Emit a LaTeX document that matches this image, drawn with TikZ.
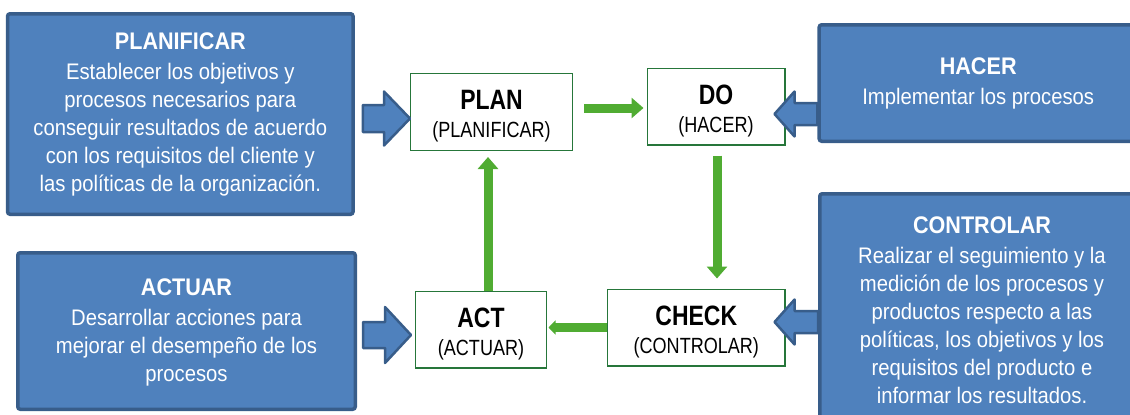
\documentclass[tikz,border=0pt]{standalone}
\usepackage{fontspec}
\setmainfont{Liberation Sans}
\newfontfamily\boxfont[FakeStretch=0.9]{Liberation Sans}
\newfontfamily\stepfont[FakeStretch=0.82]{Liberation Sans}
\usetikzlibrary{calc,arrows.meta}
\definecolor{boxblue}{RGB}{79,129,189}
\definecolor{edgeblue}{RGB}{56,93,138}
\definecolor{flowgreen}{RGB}{80,172,50}
\definecolor{stepgreen}{RGB}{38,118,58}

\begin{document}
\begin{tikzpicture}[x=1pt,y=-1pt,
    infobox/.style={draw=edgeblue,fill=boxblue,line width=3.5pt,rounded corners=2.5pt,
      text=white,align=center,inner sep=0pt,
      font=\boxfont\fontsize{22.5}{28}\selectfont},
    stepbox/.style={draw=stepgreen,fill=white,line width=1.3pt,align=center,inner sep=0pt,
      minimum height=76.7pt,font=\stepfont\fontsize{22}{28}\selectfont},
    flow/.style={draw=flowgreen,line width=9pt,-{Triangle[width=20pt,length=12pt]}},
    blockarrow/.style={draw=edgeblue,fill=boxblue,line width=2.5pt,line join=round}]
      \useasboundingbox (0,0) rectangle (1130,415);
      \clip (0,0) rectangle (1130,415);
      % blue boxes
      \node[infobox,minimum width=345.5pt,minimum height=200.5pt] (planificar) at (180.3,114)
        {{\bfseries\fontsize{24}{28}\selectfont PLANIFICAR}\\[2pt]
         Establecer los objetivos y\\procesos necesarios para\\conseguir resultados de acuerdo\\
         con los requisitos del cliente y\\las políticas de la organización.};
      \node[infobox,minimum width=318pt,minimum height=116.5pt] (hacer) at (978.2,83)
        {{\bfseries\fontsize{24}{28}\selectfont HACER}\\[2pt]Implementar los procesos};
      \node[infobox,minimum width=324.5pt,minimum height=233.5pt] (controlar) at (982,310.5)
        {{\bfseries\fontsize{24}{28}\selectfont CONTROLAR}\\[2pt]
         Realizar el seguimiento y la\\medición de los procesos y\\productos respecto a las\\
         políticas, los objetivos y los\\requisitos del producto e\\informar los resultados.};
      \node[infobox,minimum width=337.5pt,minimum height=156.5pt] (actuar) at (186.5,331)
        {\rule{0pt}{20pt}{\bfseries\fontsize{24}{28}\selectfont ACTUAR}\\[2pt]
         Desarrollar acciones para\\mejorar el desempeño de los\\procesos};
      % cycle steps
      \node[stepbox,minimum width=161.7pt] (plan) at (491.5,112)
        {\rule{0pt}{28pt}{\bfseries\fontsize{28}{28}\selectfont PLAN}\\(PLANIFICAR)};
      \node[stepbox,minimum width=137.7pt] (do) at (716,106.5)
        {\rule{0pt}{28pt}{\bfseries\fontsize{28}{28}\selectfont DO}\\(HACER)};
      \node[stepbox,minimum width=177.2pt] (check) at (696.3,327.5)
        {\rule{0pt}{28pt}{\bfseries\fontsize{28}{28}\selectfont CHECK}\\(CONTROLAR)};
      \node[stepbox,minimum width=130.7pt] (act) at (481,329.5)
        {\rule{0pt}{28pt}{\bfseries\fontsize{28}{28}\selectfont ACT}\\(ACTUAR)};
      % green cycle
      \draw[flow] ($(plan.east)+(11,-4)$) -- ($(do.west |- plan.east)+(-3,-4)$);
      \draw[flow] ($(do.south)+(1,10)$) -- ($(do.south |- check.north)+(1,-10)$);
      \draw[flow,-{Triangle[width=14pt,length=7pt]}] (check.west) -- ($(act.east |- check.west)+(1.5,0)$);
      \draw[flow] ($(act.north)+(7,0)$) -- ($(act.north |- plan.south)+(7,6)$);
      % block arrows into the steps
      \coordinate (t1) at ($(planificar.east |- plan.west)+(8,6.5)$);
      \coordinate (p1) at ($(plan.west)+(0,6.5)$);
      \coordinate (t2) at ($(hacer.west |- do.east)+(0,7.5)$);
      \coordinate (p2) at ($(do.east)+(-11,7.5)$);
      \coordinate (t3) at ($(controlar.west |- check.east)+(0,-5.5)$);
      \coordinate (p3) at ($(check.east)+(-11,-5.5)$);
      \coordinate (t4) at ($(actuar.east |- act.west)+(6,5.5)$);
      \coordinate (p4) at ($(act.west)+(-4,5.5)$);
      \foreach \tl/\tp/\sh/\hh/\hl in {t1/p1/13.5/27/26,t2/p2/11/22.5/20,t3/p3/11/22.5/20,t4/p4/13/28/26}{%
        \coordinate (hb) at ($(\tp)!\hl pt!(\tl)$);
        \draw[blockarrow] ($(\tl)+(0,-\sh)$) -- ($(hb)+(0,-\sh)$) -- ($(hb)+(0,-\hh)$) -- (\tp)
          -- ($(hb)+(0,\hh)$) -- ($(hb)+(0,\sh)$) -- ($(\tl)+(0,\sh)$) -- cycle;
      }
\end{tikzpicture}
\end{document}
